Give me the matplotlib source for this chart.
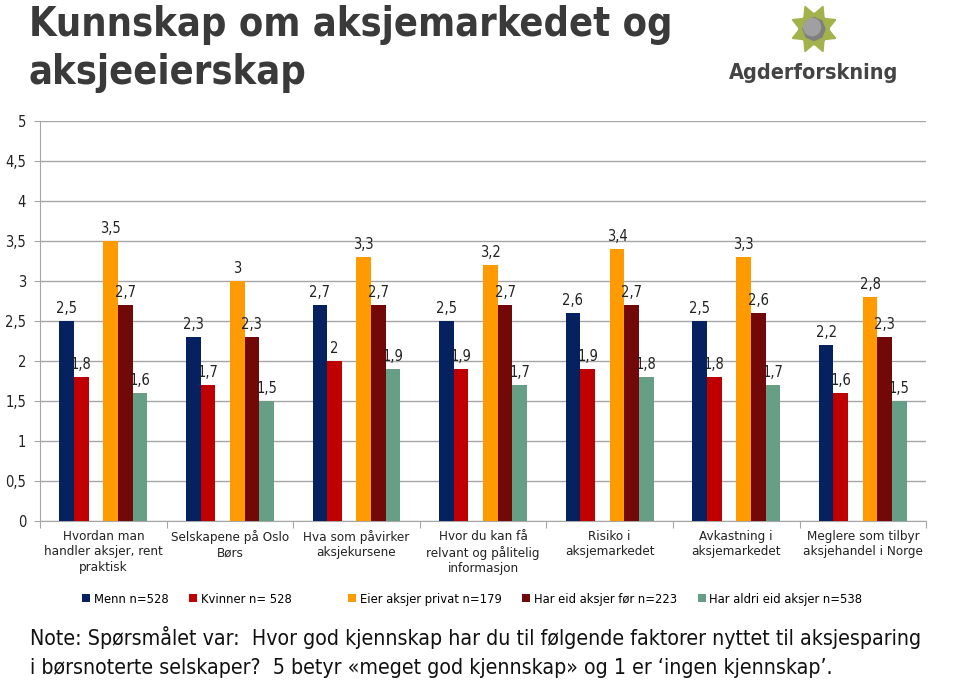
import numpy as np
import matplotlib.pyplot as plt
from matplotlib.patches import Polygon, Circle

categories = [
    "Hvordan man\nhandler aksjer, rent\npraktisk",
    "Selskapene på Oslo\nBørs",
    "Hva som påvirker\naksjekursene",
    "Hvor du kan få\nrelvant og pålitelig\ninformasjon",
    "Risiko i\naksjemarkedet",
    "Avkastning i\naksjemarkedet",
    "Meglere som tilbyr\naksjehandel i Norge",
]
menn = [2.5, 2.3, 2.7, 2.5, 2.6, 2.5, 2.2]
kvinner = [1.8, 1.7, 2.0, 1.9, 1.9, 1.8, 1.6]
eier = [3.5, 3.0, 3.3, 3.2, 3.4, 3.3, 2.8]
har_eid = [2.7, 2.3, 2.7, 2.7, 2.7, 2.6, 2.3]
aldri = [1.6, 1.5, 1.9, 1.7, 1.8, 1.7, 1.5]

# tom serie i midten, gir mellomrom mellom rød og oransje søyle
series = [
    ("Menn n=528", menn, "#06215F"),
    ("Kvinner n= 528", kvinner, "#C00000"),
    ("", None, "none"),
    ("Eier aksjer privat n=179", eier, "#FF9A00"),
    ("Har eid aksjer før n=223", har_eid, "#720808"),
    ("Har aldri eid aksjer n=538", aldri, "#669E86"),
]
yticks = [0, 0.5, 1, 1.5, 2, 2.5, 3, 3.5, 4, 4.5, 5]

plt.rcParams["font.family"] = ["DejaVu Sans"]
plt.rcParams["font.stretch"] = "condensed"

def fmt(v):
    s = f"{v:.1f}".replace(".", ",")
    return s[:-2] if s.endswith(",0") else s

fig = plt.figure(figsize=(9.6, 6.84), dpi=100)
ax = fig.add_axes([0.0417, 0.2383, 0.923, 0.5848])

x = np.arange(len(categories))
w = 0.695 / 6
for i, (label, vals, color) in enumerate(series):
    pos = x - 0.3475 + w * (i + 0.5)
    if vals is None:
        ax.bar(pos[:1], [0], w, color="none", label=" ")
        continue
    ax.bar(pos, vals, w, color=color, label=label, zorder=3)
    for px, v in zip(pos, vals):
        ax.text(px, v + 0.06, fmt(v), ha="center", va="bottom",
                fontsize=10.5, color="#222222")

ax.set_xlim(-0.5, len(categories) - 0.5)
ax.set_ylim(0, 5)
ax.set_yticks(yticks)
ax.set_yticklabels([fmt(t) for t in yticks], fontsize=10.5, color="#222222")
ax.yaxis.grid(True, color="#A6A6A6", linewidth=1)
ax.set_axisbelow(True)
ax.tick_params(axis="y", length=4, color="#A6A6A6", pad=6)
ax.set_xticks(np.arange(len(categories) + 1) - 0.5)
ax.set_xticklabels([])
ax.tick_params(axis="x", length=5, color="#A6A6A6")
for i, c in enumerate(categories):
    ax.text(i, -0.11, c, ha="center", va="top", fontsize=9.6,
            color="#222222", linespacing=1.25, transform=ax.transData)
for s in ["top", "right"]:
    ax.spines[s].set_visible(False)
ax.spines["left"].set_color("#A6A6A6")
ax.spines["bottom"].set_color("#A6A6A6")

leg = ax.legend(loc="upper center", bbox_to_anchor=(0.488, -0.15), ncol=6,
                frameon=False, handlelength=0.6, handleheight=0.6,
                handletextpad=0.3, columnspacing=1.6, fontsize=9.3)

fig.text(0.030, 0.992, "Kunnskap om aksjemarkedet og\naksjeeierskap", ha="left", va="top",
         fontsize=28.5, fontweight="bold", color="#3A3A3A", linespacing=1.25)

fig.text(0.031, 0.047, "Note: Spørsmålet var:  Hvor god kjennskap har du til følgende faktorer nyttet til aksjesparing\n"
         "i børsnoterte selskaper?  5 betyr «meget god kjennskap» og 1 er ‘ingen kjennskap’.",
         ha="left", va="center", fontsize=15.3, color="#111111", linespacing=1.6)

# logo
lax = fig.add_axes([790 / 960, 1 - 54 / 684, 48 / 960, 50 / 684])
lax.set_xlim(-1, 1)
lax.set_ylim(-1, 1)
lax.axis("off")
lax.add_patch(Circle((0, 0), 0.62, color="#7F7F7F"))
lax.add_patch(Circle((-0.08, 0.08), 0.35, color="#A0A0A0"))
for k in range(8):
    a = np.pi / 8 + k * np.pi / 4
    tip = (0.98 * np.cos(a), 0.98 * np.sin(a))
    l = (0.55 * np.cos(a - 0.5), 0.55 * np.sin(a - 0.5))
    r = (0.55 * np.cos(a + 0.5), 0.55 * np.sin(a + 0.5))
    lax.add_patch(Polygon([tip, l, r], color="#A3B24A"))
fig.text(814 / 960, 1 - 73 / 684, "Agderforskning", ha="center", va="center",
         fontsize=15.5, fontweight="bold", color="#444444")

fig.savefig("out.png", dpi=100)
